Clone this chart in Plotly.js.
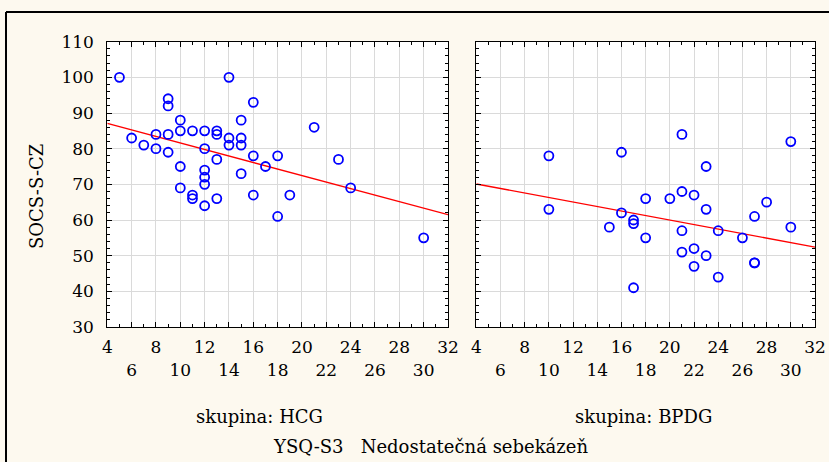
<!DOCTYPE html>
<html>
<head>
<meta charset="utf-8">
<script src="https://cdn.plot.ly/plotly-3.0.1.min.js"></script>
<style>
html,body{margin:0;padding:0;background:#FDF9EF;}
#chart{width:829px;height:462px;}
</style>
</head>
<body>
<div id="chart"></div>
<script>
// ---- data ----
const hcgX = [5, 6, 7, 8, 8, 9, 9, 9, 9, 10, 10, 10, 10, 11, 11, 11, 12, 12, 12, 12, 12, 12,
              13, 13, 13, 13, 14, 14, 14, 15, 15, 15, 15, 16, 16, 16, 17, 18, 18, 19, 21, 23, 24, 30];
const hcgY = [100, 83, 81, 84, 80, 94, 92, 84, 79, 88, 85, 75, 69, 85, 67, 66, 85, 80, 74, 72, 70, 64,
              85, 84, 77, 66, 100, 83, 81, 88, 83, 81, 73, 93, 78, 67, 75, 78, 61, 67, 86, 77, 69, 55];
const bpdgX = [10, 10, 15, 16, 16, 17, 17, 17, 18, 18, 20, 21, 21, 21, 21, 22, 22, 22,
               23, 23, 23, 24, 24, 26, 27, 27, 27, 28, 30, 30];
const bpdgY = [78, 63, 58, 79, 62, 60, 59, 41, 66, 55, 66, 84, 68, 57, 51, 67, 52, 47,
               75, 63, 50, 57, 44, 55, 61, 48, 48, 65, 82, 58];
const fitHcgX = [4, 32];
const fitHcgY = [87.1, 61.5];
const fitBpdgX = [4, 32];
const fitBpdgY = [70.1, 52.4];
const xTickVals = [4, 6, 8, 10, 12, 14, 16, 18, 20, 22, 24, 26, 28, 30, 32];
const xTickText = ["4", "<br>6", "8", "<br>10", "12", "<br>14", "16", "<br>18", "20", "<br>22", "24", "<br>26", "28", "<br>30", "32"];
const yTickVals = [30, 40, 50, 60, 70, 80, 90, 100, 110];
const groupLabels = ["skupina: HCG", "skupina: BPDG"];
const xTitle = "YSQ-S3\u00a0\u00a0 Nedostatečná sebekázeň";
const yTitle = "SOCS-S-CZ";

// ---- styling ----
const W = 829, H = 462;
const FONT = "DejaVu Serif";
const marker = {symbol: "circle-open", size: 9, color: "#0000FF", line: {width: 1.8, color: "#0000FF"}};
const fitLine = {color: "#FF0000", width: 1.4};

const traces = [
  {x: fitHcgX, y: fitHcgY, type: "scatter", mode: "lines", line: fitLine, xaxis: "x", yaxis: "y", hoverinfo: "skip"},
  {x: hcgX, y: hcgY, type: "scatter", mode: "markers", marker: marker, xaxis: "x", yaxis: "y"},
  {x: fitBpdgX, y: fitBpdgY, type: "scatter", mode: "lines", line: fitLine, xaxis: "x2", yaxis: "y2", hoverinfo: "skip"},
  {x: bpdgX, y: bpdgY, type: "scatter", mode: "markers", marker: marker, xaxis: "x2", yaxis: "y2"}
];

function xAxis(domain, anchor) {
  return {
    domain: domain, anchor: anchor, range: [4, 32], tickmode: "array",
    tickvals: xTickVals, ticktext: xTickText, tickangle: 0,
    ticks: "inside", ticklen: 5, tickcolor: "#000", tickwidth: 1,
    showline: true, linecolor: "#000", linewidth: 1, mirror: "allticks",
    showgrid: true, gridcolor: "#DADADA", gridwidth: 1, zeroline: false,
    minor: {dtick: 1, ticks: "inside", ticklen: 3, tickcolor: "#000", showgrid: false},
    tickfont: {family: FONT, size: 17, color: "#000"}, ticklabelstandoff: 5
  };
}
function yAxis(domain, anchor, labels) {
  return {
    domain: domain, anchor: anchor, range: [30, 110], tickmode: "array", tickvals: yTickVals,
    ticks: "inside", ticklen: 5, tickcolor: "#000", tickwidth: 1,
    showline: true, linecolor: "#000", linewidth: 1, mirror: "allticks",
    showgrid: true, gridcolor: "#DADADA", gridwidth: 1, zeroline: false,
    minor: {dtick: 2, ticks: "inside", ticklen: 3, tickcolor: "#000", showgrid: false},
    showticklabels: labels,
    tickfont: {family: FONT, size: 17, color: "#000"}, ticklabelstandoff: 9
  };
}

const yDom = [(H - 327) / H, (H - 41.7) / H];
const layout = {
  width: W, height: H, margin: {l: 0, r: 0, t: 0, b: 0},
  paper_bgcolor: "#FDF9EF", plot_bgcolor: "#FFFFFF", showlegend: false,
  font: {family: FONT, size: 18, color: "#000"},
  xaxis: xAxis([107.3 / W, 448 / W], "y"),
  yaxis: yAxis(yDom, "x", true),
  xaxis2: xAxis([476.3 / W, 815 / W], "y2"),
  yaxis2: yAxis(yDom, "x2", false),
  shapes: [
    {type: "line", xref: "paper", yref: "paper", x0: 6 / W, x1: 1.05, y0: (H - 12) / H, y1: (H - 12) / H, line: {color: "#000", width: 2}},
    {type: "line", xref: "paper", yref: "paper", x0: 6 / W, x1: 6 / W, y0: (H - 12) / H, y1: -0.05, line: {color: "#000", width: 2}}
  ],
  annotations: [
    {text: groupLabels[0], xref: "paper", yref: "paper", x: 259 / W, y: (H - 416) / H, xanchor: "center", yanchor: "middle", showarrow: false, font: {family: FONT, size: 18}},
    {text: groupLabels[1], xref: "paper", yref: "paper", x: 643 / W, y: (H - 416) / H, xanchor: "center", yanchor: "middle", showarrow: false, font: {family: FONT, size: 18}},
    {text: xTitle, xref: "paper", yref: "paper", x: 430 / W, y: (H - 446) / H, xanchor: "center", yanchor: "middle", showarrow: false, font: {family: FONT, size: 18}},
    {text: yTitle, xref: "paper", yref: "paper", x: 36 / W, y: (H - 197) / H, xanchor: "center", yanchor: "middle", textangle: -90, showarrow: false, font: {family: FONT, size: 18}}
  ]
};

Plotly.newPlot("chart", traces, layout, {staticPlot: true, displayModeBar: false});
</script>
</body>
</html>
